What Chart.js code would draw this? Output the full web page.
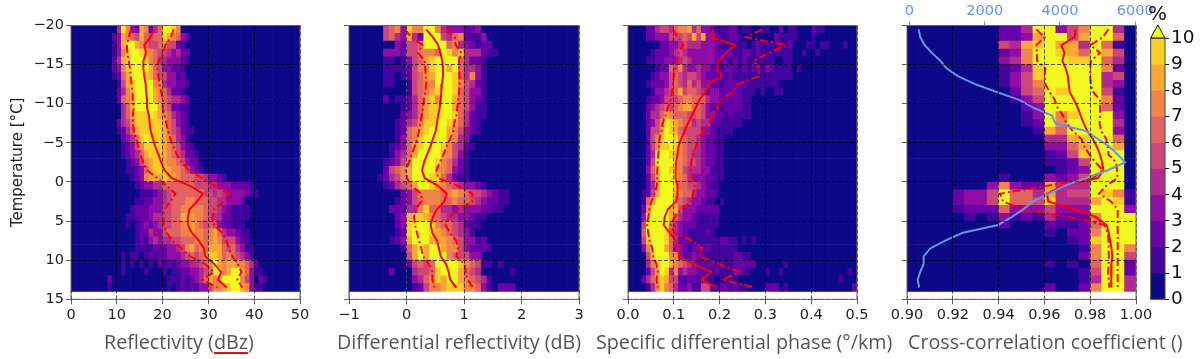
<!DOCTYPE html>
<html>
<head>
<meta charset="utf-8">
<script src="https://cdn.jsdelivr.net/npm/chart.js@4"></script>
<style>
  html, body { margin: 0; padding: 0; background: #fff; }
  #page { position: relative; width: 1203px; height: 359px; overflow: hidden; }
  canvas { position: absolute; top: 0; }
  .xlabel { position: absolute; top: 328px; font: 19.7px "Open Sans", sans-serif; color: #555; white-space: nowrap; }
  .xlabel span { text-decoration: underline #e01010 1.5px; text-underline-offset: 3px; }
  #percent { position: absolute; left: 1148px; top: 1px; font: 20px "DejaVu Sans", sans-serif; color: #111; }
</style>
</head>
<body>
<div id="page">
  <canvas id="c1"></canvas><canvas id="c2"></canvas><canvas id="c3"></canvas><canvas id="c4"></canvas><canvas id="cbar"></canvas>
  <div class="xlabel" style="left:104px">Reflectivity (<span>dBz</span>)</div>
  <div class="xlabel" style="left:337px">Differential reflectivity (dB)</div>
  <div class="xlabel" style="left:596px">Specific differential phase (°/km)</div>
  <div class="xlabel" style="left:908px">Cross-correlation coefficient ()</div>
  <div id="percent">%</div>
</div>
<script>
// temperature bin centres, one per heatmap row
const temperatures = [-19.5,-18.5,-17.5,-16.5,-15.5,-14.5,-13.5,-12.5,-11.5,-10.5,-9.5,-8.5,-7.5,-6.5,-5.5,-4.5,-3.5,-2.5,-1.5,-0.5,0.5,1.5,2.5,3.5,4.5,5.5,6.5,7.5,8.5,9.5,10.5,11.5,12.5,13.5];
const tempTicks = [-20,-15,-10,-5,0,5,10,15];

const levelColors = ['#0d0887','#41049d','#6a00a8','#8f0da4','#b12a90','#cc4778','#e16462','#f2844b','#fca636','#fcce25','#f0f921'];
const levelTicks = [0,1,2,3,4,5,6,7,8,9,10];

// heatmap rows: percent level per bin, first entry is bin reflStart etc, missing bins are 0
const reflStart = 8;
const reflRows = [
[0,0,4,10,7,3,2,8,7,2,4,6,10,10,9,7],
[0,2,3,8,7,6,5,8,6,5,6,6,9,8,7,6,3,2],
[0,1,3,8,10,10,8,7,6,5,5,6,7,5,5,2,1],
[0,1,3,7,9,10,10,9,8,7,6,5,5,4,3,4,2,2],
[0,2,4,8,9,10,10,10,9,7,6,4,4,3,3,3,2,1],
[0,2,3,7,9,10,10,10,10,8,6,5,3,3,2,2,1],
[0,1,2,6,8,10,10,10,9,8,6,5,5,3,3,1,2],
[0,0,1,5,8,9,10,10,10,10,7,7,4,3,3,2,2,1],
[0,0,2,4,7,9,10,10,10,10,8,7,6,4,2,2,1],
[0,0,2,6,7,8,10,10,10,10,8,7,6,5,4,4,3,2],
[0,0,0,4,6,9,10,10,10,10,10,8,6,5,2,2,1,1],
[0,0,0,4,6,8,9,9,9,10,9,8,7,6,4,3,2,1],
[0,0,2,4,5,7,9,9,9,9,9,9,8,6,5,3,2,1],
[0,0,1,2,4,6,8,9,9,9,9,9,8,6,5,4,2,1,1],
[0,0,0,2,3,4,6,9,10,9,9,9,8,7,6,4,3,1],
[0,0,0,1,2,3,5,7,9,9,9,9,8,7,6,5,3,2,1],
[0,0,0,1,2,3,4,6,8,9,9,9,8,7,6,5,4,2,2,1],
[0,0,0,0,1,2,3,5,7,8,9,9,8,7,7,6,5,3,2,2],
[0,0,0,0,1,1,2,3,6,8,9,9,9,8,7,7,6,5,3,2,1],
[0,0,0,0,0,1,2,3,7,8,8,8,9,8,8,7,6,6,6,5,5,4,3,3,2,1],
[0,0,0,0,0,0,1,2,3,3,4,4,6,6,6,6,6,6,6,5,5,5,4,4,3,3,3,2,2,2,2,1],
[0,0,0,0,0,0,0,1,1,1,2,3,4,5,6,6,6,6,6,6,6,5,5,4,5,4,3,3,3,3,2,1,1],
[0,0,0,0,0,0,1,1,2,2,3,3,4,5,6,6,6,7,7,6,6,6,5,5,4,4,3,3,3,2],
[0,0,0,0,0,1,2,2,2,3,3,3,5,5,6,6,7,7,7,7,7,6,5,5,4,3,2,1,1,1,1],
[0,0,0,0,1,1,2,2,2,3,4,4,5,5,6,6,8,8,8,7,7,6,5,4,4,2,2,1,1,1,1],
[0,0,0,0,1,0,1,2,3,2,3,4,5,5,6,6,7,8,8,7,6,5,6,5,3,2,2,1,1,1],
[0,0,0,0,0,0,1,2,2,4,3,3,5,6,6,6,7,7,8,7,7,6,7,8,6,4,3,3,2,1,1],
[0,0,0,0,0,0,1,2,1,3,4,3,4,4,5,5,6,6,6,7,7,6,7,8,7,5,5,5,3,2,1],
[0,0,0,0,0,0,1,1,1,1,2,2,2,3,3,4,5,7,8,6,7,6,8,8,8,6,5,6,4,3,1,1],
[0,0,0,1,0,1,1,0,1,2,1,2,2,3,3,3,4,5,6,5,6,7,9,9,8,6,7,6,5,4,3,1],
[0,0,0,1,0,1,0,1,0,1,0,2,1,2,1,2,3,3,4,4,5,6,7,10,8,7,8,8,7,7,6,4,2],
[0,0,0,1,0,0,0,0,1,0,0,0,1,0,1,1,2,2,3,3,4,5,6,10,9,7,8,10,10,8,6,3,1,1],
[2,0,0,0,0,0,0,0,0,0,0,0,0,1,1,1,2,1,2,3,4,6,8,7,8,10,10,10,10,7,5,3,0,2,1],
[1,0,0,0,0,0,0,0,0,0,0,0,0,1,0,1,2,1,2,1,3,3,5,7,7,8,9,10,10,8,7,3,1,1]
];

const zdrStart = 5;
const zdrRows = [
[0,5,6,7,3,9,7,7,10,10,7,4,3,3,3,2,2,3],
[0,5,6,4,3,8,4,2,10,10,10,5,4,6,7,2,1,1,3],
[0,0,0,3,2,5,5,6,10,10,10,10,6,7,4,3,2,1,2,2],
[0,3,3,3,2,5,5,7,7,7,6,10,9,7,9,4,4,4,2,1,1],
[0,1,1,0,1,3,5,6,8,9,10,10,10,10,6,4,2,2,1],
[0,1,1,1,1,2,5,7,7,9,10,10,8,10,6,4,4,3,1],
[0,1,1,0,1,2,5,6,8,8,10,10,10,9,6,4,7,3,1],
[0,1,1,0,0,1,5,6,7,7,10,10,10,9,7,5,4,2,1],
[0,0,0,0,0,1,5,6,7,8,9,10,10,9,6,5,3,3,1],
[0,2,0,1,1,2,4,6,8,9,7,10,10,8,6,5,3,2,1],
[0,0,0,0,1,2,4,6,8,9,9,10,10,8,6,5,3,1,1],
[0,0,0,0,2,3,4,6,8,9,9,10,10,9,6,4,2,1,1],
[0,0,0,1,2,4,5,7,9,9,10,10,9,8,6,4,2,1],
[0,0,0,1,2,6,7,8,9,10,10,10,8,7,5,3,2,1],
[0,0,0,1,3,6,7,9,10,10,10,10,8,7,4,3],
[0,0,1,2,3,6,8,9,10,10,10,9,7,5,4,2,1],
[0,0,1,3,4,6,8,10,10,10,10,8,7,5,3,1],
[0,1,2,3,5,7,10,10,10,10,9,7,6,4,2,1],
[0,2,5,6,7,8,10,10,10,10,8,7,6,3,2,1],
[1,2,4,5,7,8,10,10,10,9,9,6,4,2,1,1],
[0,1,2,4,5,6,8,10,10,9,8,7,6,5,4,3,3,2,1],
[0,0,0,0,2,3,5,7,7,7,7,6,7,8,7,6,5,5,4,3,2,1,1],
[0,0,0,1,2,3,5,6,7,7,7,6,6,7,6,6,5,4,3,2,2,1,1],
[0,0,2,2,2,4,4,7,9,6,6,4,4,3,4,3,3,3,2,2,1,1],
[0,0,0,2,3,8,9,9,8,7,6,5,4,4,3,3,2,1,1],
[0,0,0,2,3,9,10,10,10,9,7,6,6,5,4,2,1,1],
[0,0,0,1,2,9,10,10,10,9,8,7,6,5,4,3,1],
[0,0,1,2,3,8,10,10,10,8,8,8,7,6,5,3,3,1,2],
[0,0,0,0,1,6,8,10,8,10,10,8,7,7,5,3,2,2,2,1],
[0,0,0,0,0,5,8,10,8,10,10,10,7,6,5,5,3,3],
[0,0,0,0,0,2,5,6,5,6,10,10,10,10,9,7,6,5,1,1,0,1],
[0,0,2,0,0,0,4,5,5,6,9,10,10,10,8,6,5,4,0,0,0,0,0,1],
[0,0,0,0,0,0,3,4,6,7,9,8,10,10,8,7,6,5,4,1],
[0,0,0,0,0,0,1,2,5,7,7,8,9,9,9,7,7,6,3,1,0,2,2,2]
];

const kdpStart = 3;
const kdpRows = [
[0,2,2,4,5,5,4,6,7,7,8,4,6,3,3,2,1,1,1,2,2,0,1,1,0,0,1,1,0,0,2,0,1,1,0,0,0,2,1,1],
[0,2,2,3,3,3,5,5,5,6,5,8,5,8,3,3,2,1,1,2,2,1,0,0,0,0,0,0,0,2,1,1,1,1,0,0,0,1],
[0,0,0,0,2,2,3,3,4,5,4,4,4,3,3,3,2,1,1,1,1,1,1,0,1,2,1,1,1,1,1,1,2,0,0,0,1,1,0,1,1,0,0,0,1,0,0,1],
[0,0,1,2,2,2,3,4,5,4,3,3,3,3,3,3,2,2,2,2,1,1,2,2,1,2,1,1,1,1,1,1,1,0,0,1,0,0,1],
[0,1,1,2,2,3,3,3,4,5,4,3,3,3,3,3,2,2,2,1,2,1,2,1,1,1,1,1,1,0,0,1,1],
[0,0,0,1,2,2,6,5,7,4,3,3,4,3,3,2,2,1,2,2,2,1,2,1,2,2,1,3,2,1,1,1,1,0,1],
[0,0,1,2,3,3,5,6,5,4,5,5,4,3,2,2,2,2,1,2,1,1,1,1,1,1,1,1,1,1,1,1,1],
[0,1,2,2,2,3,5,6,5,4,6,4,5,3,3,2,2,1,2,2,2,1,2,1,1,1,1,1,1,1],
[0,0,1,3,3,4,5,6,8,5,6,6,5,4,2,3,3,2,2,2,2,2,1,1,1,0,1,0,0,1,1],
[0,1,2,2,3,5,5,5,6,7,7,6,6,6,4,3,3,2,2,2,2,2,1,1],
[0,2,3,4,5,6,5,6,7,8,8,6,6,5,3,2,2,1,2,2,2,2,1,1],
[0,2,4,4,6,8,7,6,6,6,5,5,6,5,3,3,2,2,1,2,1,1,1,1],
[0,2,3,5,7,10,9,8,7,6,6,4,5,4,4,2,2,1,1,1,1,1],
[0,2,5,5,8,10,9,8,6,5,5,5,5,3,3,2,1,1,1,1],
[0,2,5,7,9,10,10,9,7,6,5,5,4,3,2,2,1,1],
[0,2,5,7,9,9,10,9,7,6,5,5,4,3,2,2,1,1],
[0,2,4,10,10,10,9,8,7,6,5,4,4,3,2,2,1,1],
[0,2,5,10,10,10,10,9,7,6,5,5,4,3,2,2,1,1],
[0,3,6,9,10,10,9,9,7,5,4,4,4,3,3,1,1,1],
[0,2,5,8,10,10,10,9,7,6,4,3,3,3,2,2,1,1],
[0,2,4,8,10,10,10,9,6,6,5,5,4,3,2,1,1],
[1,2,5,8,10,10,10,8,7,6,6,4,3,3,2,2,1],
[1,6,8,10,10,10,10,8,6,5,4,3,3,2,1,1,0,1],
[2,7,10,10,10,10,8,8,5,3,3,3,2,2,2,2,2],
[3,9,10,10,10,10,8,6,4,3,3,2,1,1,1,1,1],
[5,10,10,10,10,10,6,4,3,2,2,2,1,1,1,1,1],
[6,10,10,10,10,9,5,4,3,2,1,1,1,1,2,1],
[5,9,10,10,10,9,6,4,2,2,2,1,1,1,1,1,1,2,2,1,1,0,1,0,1],
[3,7,10,10,10,8,6,3,3,2,1,2,2,1,2,1,1,1,1,1,1],
[0,5,9,10,10,10,7,7,3,1,2,3,2,2,1,1,1,1,1,1,2,2,1,1],
[0,4,7,9,10,10,8,7,6,5,4,3,2,2,2,2,1,2,1,1,2,2,2,2,2,0,0,0,0,0,0,1],
[0,2,5,8,10,9,4,7,3,4,3,3,2,2,1,1,2,1,1,1,2,2,1,1,0,0,0,1,0,0,1,0,0,0,0,0,0,0,0,0,0,0,0,0,0,1],
[2,4,6,8,9,8,5,5,2,1,2,2,1,2,1,1,0,1,1,1,1,0,0,0,0,0,0,0,0,0,0,0,0,0,0,0,0,0,0,0,0,0,0,1],
[0,1,4,7,9,7,6,4,2,2,3,1,1,5,5,1,1,2,2,1,2,1,1,0,0,0,0,2,2,2,0,1,0,0,0,0,0,0,0,0,0,0,0,0,0,0,2]
];

const rhoStart = 4;
const rhoRows = [
[0,0,0,0,2,2,4,10,10,3,5,7,10,10,4,0],
[0,0,0,0,2,2,3,8,10,10,5,8,10,10,6,0],
[0,0,0,0,5,4,8,9,10,8,8,4,10,6,1,0],
[0,0,0,0,2,3,7,10,10,9,8,6,10,8,5,0],
[0,0,0,0,3,4,7,10,10,10,9,9,10,6,4,0],
[0,0,0,0,1,2,4,9,10,10,10,10,10,7,2,0],
[0,0,0,0,1,3,5,9,10,10,10,10,10,4,5,0],
[0,0,0,0,1,3,5,7,10,10,10,10,10,4,3,0],
[0,0,0,0,0,2,5,6,10,9,10,10,10,5,1,0],
[0,0,0,0,0,1,3,5,10,10,10,10,10,7,2,0],
[0,0,0,0,0,0,2,3,10,10,10,10,10,6,2,0],
[0,0,0,0,0,0,1,3,10,7,9,10,10,10,3,0],
[0,0,0,0,0,0,1,2,10,7,10,10,10,10,4,0],
[0,0,0,0,0,0,0,1,8,6,10,10,10,10,3,0],
[0,0,0,0,0,0,0,0,4,4,8,9,10,10,6,0],
[0,0,0,0,0,0,0,0,3,3,6,8,10,10,8,0],
[0,0,0,0,0,0,0,0,1,2,5,9,10,10,10,0],
[0,0,0,0,0,0,0,0,1,1,2,5,10,10,10,0],
[0,0,0,0,0,0,0,0,0,1,2,3,10,10,10,0],
[0,0,0,0,1,0,0,0,3,2,3,5,10,10,10,0],
[0,0,0,3,7,3,2,2,8,4,4,4,10,10,10,0],
[2,3,3,5,10,6,6,4,8,4,5,5,10,9,7,1],
[2,3,3,5,10,6,6,5,9,4,4,4,8,10,9,1],
[1,2,2,2,6,3,3,3,5,3,3,3,10,10,10,3],
[0,1,0,1,3,1,2,1,4,2,2,2,7,10,10,10],
[0,0,0,0,2,0,0,0,2,1,1,2,6,10,10,10],
[0,0,0,0,0,0,0,0,1,0,2,2,7,10,10,10],
[0,0,0,0,0,0,0,0,0,0,1,2,9,10,10,10],
[0,0,0,0,0,0,0,0,0,0,0,1,7,10,10,7],
[0,0,0,0,0,0,0,0,0,0,0,2,7,10,10,5],
[0,0,0,0,0,0,0,0,1,0,1,0,6,10,10,2],
[0,0,0,0,0,0,0,0,0,0,0,1,5,10,10,2],
[0,0,0,0,0,0,0,0,0,0,0,1,4,10,10,4],
[0,0,0,0,0,0,0,0,2,0,0,2,7,10,10,4]
];

// quantile curves, one value per temperature bin
const reflMedian = [18.2,17.3,16,16.4,15.8,15.8,16,16.3,16.4,16.6,16.6,17,17.2,17.4,17.9,18.4,19.1,19.7,20.4,22,26,28.8,27.5,25.9,25.5,25.5,26.4,27.9,29,29.3,31.3,32.8,32.1,34];
const reflLow = [13.1,12.6,12.2,12.3,12.6,12.9,13.1,13.2,13.4,13.5,13.7,13.5,13.5,13.7,14.2,14.7,15.1,15.8,16.6,18.8,20.9,22.8,21.7,20.4,20.2,20.2,20.9,22,24.2,26,29.3,31.2,28.8,31.9];
const reflHigh = [22.4,21.8,20.6,20.2,19.1,18.9,19.1,19.3,19.7,20.1,20,20.4,20.8,21.2,21.7,22.4,23.1,24.2,25.7,28.6,31.5,34.5,33.4,31.2,30.8,31.2,33,33.9,34.5,35.2,36.4,37.2,36.3,37.4];

const zdrMedian = [0.345,0.46,0.55,0.59,0.62,0.635,0.635,0.617,0.606,0.594,0.577,0.55,0.53,0.507,0.46,0.415,0.357,0.304,0.27,0.316,0.55,0.7,0.66,0.53,0.46,0.42,0.45,0.53,0.565,0.594,0.69,0.733,0.76,0.867];
const zdrLow = [-0.03,0.085,0.275,0.2,0.316,0.327,0.333,0.345,0.327,0.304,0.287,0.264,0.24,0.217,0.188,0.142,0.084,0.043,-0.014,0.009,0.084,0.258,0.258,0.16,0.13,0.148,0.183,0.217,0.258,0.287,0.39,0.45,0.45,0.49];
const zdrHigh = [0.693,0.838,0.855,0.954,0.913,0.913,0.925,0.925,0.913,0.9,0.884,0.867,0.83,0.81,0.76,0.693,0.646,0.577,0.52,0.55,0.896,1.145,1.145,0.896,0.75,0.68,0.75,0.867,0.896,0.867,1.01,1.03,1.06,1.157];

const kdpMedian = [0.185,0.182,0.233,0.214,0.198,0.198,0.202,0.176,0.169,0.156,0.148,0.14,0.131,0.124,0.116,0.11,0.108,0.105,0.104,0.104,0.108,0.108,0.105,0.087,0.08,0.078,0.091,0.105,0.11,0.111,0.142,0.182,0.16,0.194];
const kdpLow = [0.098,0.109,0.121,0.111,0.108,0.103,0.1,0.098,0.096,0.093,0.087,0.082,0.076,0.073,0.069,0.068,0.066,0.065,0.064,0.064,0.063,0.058,0.051,0.047,0.044,0.042,0.044,0.047,0.053,0.055,0.062,0.065,0.062,0.065];
const kdpHigh = [0.293,0.258,0.345,0.309,0.274,0.287,0.285,0.24,0.229,0.203,0.196,0.182,0.177,0.164,0.153,0.148,0.142,0.138,0.137,0.14,0.146,0.142,0.138,0.116,0.102,0.093,0.102,0.138,0.162,0.156,0.2,0.243,0.207,0.276];

const rhoMedian = [0.9736,0.9732,0.9674,0.9688,0.9678,0.9693,0.9703,0.9706,0.971,0.9729,0.9746,0.9758,0.9772,0.9787,0.9812,0.9829,0.9843,0.9852,0.9858,0.9833,0.9681,0.9612,0.9616,0.9732,0.9826,0.9872,0.9881,0.9887,0.9893,0.9896,0.9893,0.9891,0.9891,0.9894];
const rhoLow = [0.9565,0.9601,0.9565,0.9567,0.9568,0.9604,0.9601,0.9604,0.9623,0.9645,0.9657,0.9681,0.9696,0.9725,0.9761,0.9775,0.9797,0.9823,0.9855,0.9812,0.9609,0.9406,0.942,0.9507,0.971,0.9862,0.9877,0.988,0.9881,0.9881,0.9881,0.9878,0.9881,0.9884];
const rhoHigh = [0.988,0.9855,0.9801,0.9843,0.9803,0.98,0.98,0.9803,0.9812,0.9843,0.9843,0.9843,0.9841,0.9848,0.987,0.9877,0.988,0.9913,0.9917,0.9919,0.987,0.9838,0.9891,0.992,0.992,0.992,0.992,0.992,0.992,0.992,0.992,0.992,0.992,0.992];

// number of samples per temperature bin (top axis of last panel)
const sampleCounts = [247,290,405,600,820,995,1300,1745,2317,2916,3286,3789,3877,4696,5004,5313,5533,5727,5269,4696,4123,3709,3286,3022,2714,2361,1419,952,555,379,379,290,220,264];
const sampleTicks = [0,2000,4000,6000];

const TICK_FONT = { family: '"DejaVu Sans"', size: 14.5 };
const TICK_COLOR = '#222';
const PLOT_TOP = 25.5;
const BOTTOM_SPACE = 59.7;

// one cell per bin, the level picks the colour
function makeCells(rows, start, nBins, xMin, binWidth) {
  const cells = [];
  rows.forEach((row, r) => {
    for (let c = 0; c < nBins; c++) {
      const level = row[c - start] || 0;
      cells.push({ y: temperatures[r], x: [xMin + c * binWidth, xMin + (c + 1) * binWidth], level });
    }
  });
  return cells;
}

function curve(values, dashed, axisId) {
  return {
    type: 'line',
    data: values.map((v, i) => ({ x: v, y: temperatures[i] })),
    borderColor: '#ff0000',
    borderWidth: 2,
    borderDash: dashed ? [8, 3, 2, 3] : [],
    pointRadius: 0,
    tension: 0,
    order: 1,
    xAxisID: axisId || 'x',
  };
}

const framePlugin = {
  id: 'frame',
  afterDraw(chart) {
    const { ctx, chartArea: a } = chart;
    ctx.save();
    ctx.strokeStyle = chart.options.plugins.frame.color;
    ctx.lineWidth = 1;
    ctx.strokeRect(a.left, a.top, a.right - a.left, a.bottom - a.top);
    ctx.restore();
  },
};

const gridOptions = { offset: false, z: -1, color: 'rgba(0,0,0,0.85)', lineWidth: 0.8, tickColor: '#333', tickLength: 5, tickBorderDash: [] };

function makePanel(id, cfg) {
  const canvas = document.getElementById(id);
  const width = cfg.leftSpace + cfg.plotWidth + 30;
  canvas.width = width;
  canvas.height = 359;
  canvas.style.left = (cfg.plotLeft - cfg.leftSpace) + 'px';

  const scales = {
    x: {
      type: 'linear',
      min: cfg.min,
      max: cfg.max,
      offset: false,
      afterFit: (s) => { s.height = BOTTOM_SPACE; },
      afterBuildTicks: (s) => { s.ticks = cfg.ticks.map((value) => ({ value })); },
      border: { display: false, dash: [4, 2] },
      grid: { ...gridOptions, z: 1 },
      ticks: { font: TICK_FONT, color: TICK_COLOR, padding: 2, autoSkip: false, maxRotation: 0, callback: (v) => String(v.toFixed(cfg.decimals)).replace('-', '\u2212') },
    },
    y: {
      type: 'linear',
      min: -20,
      max: 15,
      reverse: true,
      offset: false,
      afterFit: (s) => { s.width = cfg.leftSpace; },
      afterBuildTicks: (s) => { s.ticks = tempTicks.map((value) => ({ value })); },
      border: { display: false, dash: [4, 2] },
      grid: { ...gridOptions, z: 1 },
      ticks: {
        display: cfg.showTemp,
        font: TICK_FONT,
        color: TICK_COLOR,
        padding: 2,
        autoSkip: false,
        callback: (v) => String(v).replace('-', '\u2212'),
      },
      title: { display: cfg.showTemp, text: 'Temperature [°C]', font: { family: '"DejaVu Sans"', size: 15 }, color: TICK_COLOR, padding: { top: 9, bottom: 0 } },
    },
  };

  const datasets = [
    {
      type: 'bar',
      data: makeCells(cfg.rows, cfg.start, cfg.nBins, cfg.min, cfg.binWidth),
      backgroundColor: (c) => levelColors[c.raw.level],
      barPercentage: 1,
      categoryPercentage: 1,
      borderWidth: 0,
      order: 3,
    },
    curve(cfg.median, false),
    curve(cfg.low, true),
    curve(cfg.high, true),
  ];

  if (cfg.samples) {
    scales.x2 = {
      type: 'linear',
      axis: 'x',
      position: 'top',
      min: -62,
      max: 6018,
      afterFit: (s) => { s.height = PLOT_TOP; },
      afterBuildTicks: (s) => { s.ticks = sampleTicks.map((value) => ({ value })); },
      border: { display: false },
      grid: { drawOnChartArea: false, color: '#6495ed', tickLength: 4 },
      ticks: { font: TICK_FONT, color: '#6495ed', padding: 2, autoSkip: false, maxRotation: 0, callback: (v) => String(v) },
    };
    datasets.push({
      type: 'line',
      data: cfg.samples.map((v, i) => ({ x: v, y: temperatures[i] })),
      borderColor: '#6495ed',
      borderWidth: 2,
      pointRadius: 0,
      tension: 0,
      order: 0,
      xAxisID: 'x2',
    });
  }

  return new Chart(canvas, {
    type: 'bar',
    data: { datasets },
    options: {
      indexAxis: 'y',
      responsive: false,
      animation: false,
      layout: { padding: { top: cfg.samples ? 0 : PLOT_TOP, right: 30, left: 0, bottom: 0 } },
      plugins: { legend: { display: false }, tooltip: { enabled: false }, frame: { color: '#666' } },
      scales,
    },
    plugins: [framePlugin],
  });
}

makePanel('c1', { plotLeft: 71, plotWidth: 229, leftSpace: 71, showTemp: true, min: 0, max: 50, nBins: 50, binWidth: 1, start: reflStart, rows: reflRows, ticks: [0,10,20,30,40,50], decimals: 0, median: reflMedian, low: reflLow, high: reflHigh });
makePanel('c2', { plotLeft: 349.3, plotWidth: 230, leftSpace: 20, showTemp: false, min: -1, max: 3, nBins: 40, binWidth: 0.1, start: zdrStart, rows: zdrRows, ticks: [-1,0,1,2,3], decimals: 0, median: zdrMedian, low: zdrLow, high: zdrHigh });
makePanel('c3', { plotLeft: 628.3, plotWidth: 229.7, leftSpace: 20, showTemp: false, min: 0, max: 0.5, nBins: 50, binWidth: 0.01, start: kdpStart, rows: kdpRows, ticks: [0,0.1,0.2,0.3,0.4,0.5], decimals: 1, median: kdpMedian, low: kdpLow, high: kdpHigh });
makePanel('c4', { plotLeft: 906.7, plotWidth: 229.6, leftSpace: 20, showTemp: false, min: 0.9, max: 1, nBins: 20, binWidth: 0.005, start: rhoStart, rows: rhoRows, ticks: [0.9,0.92,0.94,0.96,0.98,1], decimals: 2, median: rhoMedian, low: rhoLow, high: rhoHigh, samples: sampleCounts });

// colour bar with the over-range triangle on top
const overTriangle = {
  id: 'overTriangle',
  afterDraw(chart) {
    const { ctx, chartArea: a } = chart;
    ctx.save();
    ctx.fillStyle = levelColors[10];
    ctx.strokeStyle = '#111';
    ctx.lineWidth = 1;
    ctx.beginPath();
    ctx.moveTo(a.left, a.top);
    ctx.lineTo((a.left + a.right) / 2, a.top - 13);
    ctx.lineTo(a.right, a.top);
    ctx.closePath();
    ctx.fill();
    ctx.stroke();
    ctx.restore();
  },
};

const barCanvas = document.getElementById('cbar');
barCanvas.width = 73;
barCanvas.height = 359;
barCanvas.style.left = '1130px';
new Chart(barCanvas, {
  type: 'bar',
  data: {
    datasets: [{
      data: levelTicks.slice(0, 10).map((v) => ({ y: v + 0.5, x: [0, 1], level: v })),
      backgroundColor: (c) => levelColors[c.raw.level],
      barPercentage: 1,
      categoryPercentage: 1,
      borderWidth: 0,
    }],
  },
  options: {
    indexAxis: 'y',
    responsive: false,
    animation: false,
    layout: { padding: { top: 38, bottom: BOTTOM_SPACE, left: 20.7, right: 0 } },
    plugins: { legend: { display: false }, tooltip: { enabled: false }, frame: { color: '#444' } },
    scales: {
      x: { type: 'linear', min: 0, max: 1, offset: false, display: false, grid: { offset: false } },
      y: {
        type: 'linear',
        position: 'right',
        min: 0,
        max: 10,
        offset: false,
        afterFit: (s) => { s.width = 38; },
        afterBuildTicks: (s) => { s.ticks = levelTicks.map((value) => ({ value })); },
        border: { display: false },
        grid: { offset: false, drawOnChartArea: false, color: '#111', tickLength: 4 },
        ticks: { font: { family: '"DejaVu Sans"', size: 18.5 }, color: '#111', padding: 2, autoSkip: false },
      },
    },
  },
  plugins: [framePlugin, overTriangle],
});
</script>
</body>
</html>
